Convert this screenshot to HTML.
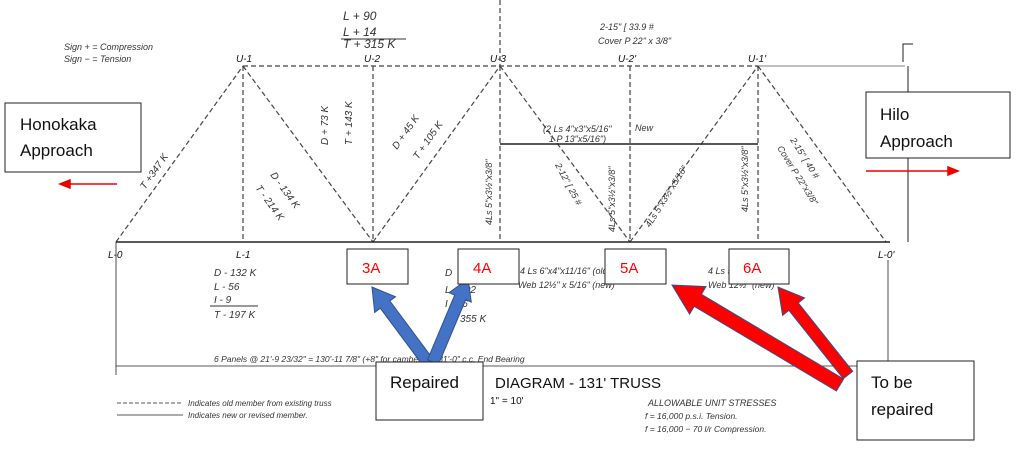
<!DOCTYPE html>
<html><head><meta charset="utf-8"><style>
body{margin:0;background:#fff;}
svg{display:block}
.t{font-family:"Liberation Sans",sans-serif;font-style:italic;fill:#333;}
.b{font-family:"Liberation Sans",sans-serif;fill:#111;}
</style></head><body>
<svg width="1017" height="460" viewBox="0 0 1017 460" xmlns="http://www.w3.org/2000/svg">
<g stroke="#444" stroke-width="1.2" fill="none" stroke-dasharray="5,3">
<line x1="243" y1="66" x2="758" y2="66"/>
<line x1="758" y1="66" x2="905" y2="66" stroke="#999" stroke-dasharray="none"/>
<line x1="116" y1="242" x2="243" y2="66"/>
<line x1="243" y1="66" x2="373" y2="242"/>
<line x1="373" y1="242" x2="500" y2="66"/>
<line x1="500" y1="66" x2="630" y2="242"/>
<line x1="630" y1="242" x2="758" y2="66"/>
<line x1="758" y1="66" x2="886" y2="242"/>
<line x1="243" y1="66" x2="243" y2="242"/>
<line x1="373" y1="66" x2="373" y2="242"/>
<line x1="500" y1="66" x2="500" y2="242"/>
<line x1="630" y1="66" x2="630" y2="242"/>
<line x1="758" y1="66" x2="758" y2="242"/>
<line x1="500" y1="0" x2="500" y2="66"/>
</g>
<g stroke="#222" stroke-width="1.6" fill="none">
<line x1="116" y1="242" x2="890" y2="242"/>
<line x1="500" y1="144" x2="758" y2="144"/>
<line x1="908" y1="66" x2="908" y2="242" stroke-width="1"/>
<line x1="116" y1="242" x2="116" y2="375" stroke-width="0.8"/>
<line x1="888" y1="260" x2="888" y2="365" stroke-width="0.8"/>
<line x1="116" y1="366" x2="888" y2="366" stroke-width="0.8"/>
<line x1="117" y1="403" x2="183" y2="403" stroke-width="0.8" stroke-dasharray="4,2"/>
<line x1="117" y1="415" x2="183" y2="415" stroke-width="0.8"/>
<path d="M903 62 V44 H913" stroke-width="1"/>
</g>
<g class="t" font-size="9">
<text x="64" y="50">Sign + = Compression</text>
<text x="64" y="62">Sign − = Tension</text>
<text x="236" y="62" class="b" font-size="10">U-1</text>
<text x="364" y="62" class="b" font-size="10">U-2</text>
<text x="490" y="62" class="b" font-size="10">U-3</text>
<text x="618" y="62" class="b" font-size="10">U-2'</text>
<text x="748" y="62" class="b" font-size="10">U-1'</text>
<text x="108" y="258" class="b" font-size="10">L-0</text>
<text x="236" y="258" class="b" font-size="10">L-1</text>
<text x="878" y="258" class="b" font-size="10">L-0'</text>
<text x="343" y="20" font-size="12">L + 90</text>
<text x="343" y="36" font-size="12">L + 14</text>
<line x1="341" y1="39" x2="406" y2="39" stroke="#333"/>
<text x="343" y="48" font-size="12">T + 315 K</text>
<text x="600" y="30">2-15" [ 33.9 #</text>
<text x="598" y="44">Cover P 22" x 3/8"</text>
<text x="214" y="276" font-size="10">D - 132 K</text>
<text x="214" y="290" font-size="10">L - 56</text>
<text x="214" y="303" font-size="10">I - 9</text>
<line x1="210" y1="306" x2="258" y2="306" stroke="#333"/>
<text x="214" y="318" font-size="10">T - 197 K</text>
<text x="445" y="276" font-size="10">D</text>
<text x="445" y="293" font-size="10">L - 102</text>
<text x="445" y="307" font-size="10">I - 16</text>
<text x="445" y="322" font-size="10">T - 355 K</text>
<text x="520" y="274" font-size="9">4 Ls 6"x4"x11/16" (old)</text>
<text x="518" y="288" font-size="9">Web 12½" x 5/16" (new)</text>
<text x="708" y="274" font-size="9">4 Ls 5"       (old)</text>
<text x="708" y="288" font-size="9">Web 12½"      (new)</text>
<text x="214" y="362" font-size="8.5">6 Panels @ 21'-9 23/32" = 130'-11 7/8" (+8" for camber) = 131'-0" c.c. End Bearing</text>
<text x="188" y="406" font-size="8">Indicates old member from existing truss</text>
<text x="188" y="418" font-size="8">Indicates new or revised member.</text>
<text x="648" y="406" font-size="9">ALLOWABLE UNIT STRESSES</text>
<text x="645" y="419" font-size="8.5">f = 16,000 p.s.i. Tension.</text>
<text x="645" y="432" font-size="8.5">f = 16,000 − 70 l/r  Compression.</text>
<text x="543" y="132" font-size="9">(2 Ls 4"x3"x5/16"</text>
<text x="549" y="142" font-size="9">1 P  13"x5/16")</text>
<text x="635" y="131" font-size="9">New</text>
<text transform="translate(145,190) rotate(-55)" font-size="10">T +347 K</text>
<text transform="translate(270,175) rotate(54)" font-size="10">D - 134 K</text>
<text transform="translate(255,188) rotate(54)" font-size="10">T - 214 K</text>
<text transform="translate(328,145) rotate(-90)" font-size="10">D + 73 K</text>
<text transform="translate(352,145) rotate(-90)" font-size="10">T + 143 K</text>
<text transform="translate(397,150) rotate(-55)" font-size="10">D + 45 K</text>
<text transform="translate(418,160) rotate(-55)" font-size="10">T + 105 K</text>
<text transform="translate(492,225) rotate(-90)" font-size="9">4Ls 5"x3½"x3/8"</text>
<text transform="translate(555,165) rotate(62)" font-size="9">2-12" [ 25 #</text>
<text transform="translate(615,232) rotate(-90)" font-size="9">4Ls 5"x3½"x3/8"</text>
<text transform="translate(650,228) rotate(-58)" font-size="9">4Ls 5"x3½"x5/16"</text>
<text transform="translate(748,212) rotate(-90)" font-size="9">4Ls 5"x3½"x3/8"</text>
<text transform="translate(790,140) rotate(58)" font-size="9">2-15" [ 40 #</text>
<text transform="translate(777,148) rotate(58)" font-size="9">Cover P 22"x3/8"</text>
</g>
<text x="495" y="388" class="b" font-size="15">DIAGRAM - 131' TRUSS</text>
<text x="490" y="404" class="b" font-size="10">1" = 10'</text>
<g stroke="#e00" stroke-width="1.5" fill="#e00">
<line x1="117" y1="184" x2="68" y2="184"/><polygon points="60,184 70,180 70,188"/>
<line x1="866" y1="171" x2="950" y2="171"/><polygon points="958,171 948,167 948,175"/>
</g>
<g fill="#4472c4" stroke="#2f528f" stroke-width="1">
<polygon points="434.8,361.4 389.9,301 395.5,296.8 372,287 374.7,312.4 380.3,308.2 425.2,368.6"/>
<polygon points="438.5,364.3 465.7,299.7 471.3,302.1 468,279 449.1,292.7 454.7,295.1 427.5,359.7"/>
</g>
<g fill="#f00" stroke="#2f528f" stroke-width="1">
<polygon points="843.6,379 701.4,294.3 706,286.6 672,285 689.6,314.1 694.2,306.3 836.4,391"/>
<polygon points="852.7,371.3 798.3,302.9 804.6,297.9 778,287 782.6,315.3 788.9,310.3 843.3,378.7"/>
</g>
<g fill="#fff" stroke="#222" stroke-width="1">
<rect x="5" y="103" width="136" height="69"/>
<rect x="866" y="92" width="144" height="66"/>
<rect x="347" y="249" width="61" height="35"/>
<rect x="458" y="249" width="61" height="35"/>
<rect x="605" y="249" width="61" height="35"/>
<rect x="729" y="249" width="60" height="35"/>
<rect x="376" y="362" width="107" height="58"/>
<rect x="857" y="361" width="117" height="79"/>
</g>
<g class="b" font-size="17" fill="#222">
<text x="20" y="130">Honokaka</text>
<text x="20" y="156">Approach</text>
<text x="880" y="120">Hilo</text>
<text x="880" y="147">Approach</text>
<text x="390" y="388">Repaired</text>
<text x="871" y="388">To be</text>
<text x="871" y="415">repaired</text>
</g>
<g font-family="Liberation Sans, sans-serif" font-size="15" style="fill:#f00">
<text x="362" y="273" style="fill:#f00">3A</text>
<text x="473" y="273" style="fill:#f00">4A</text>
<text x="620" y="273" style="fill:#f00">5A</text>
<text x="743" y="273" style="fill:#f00">6A</text>
</g>
</svg>
</body></html>
